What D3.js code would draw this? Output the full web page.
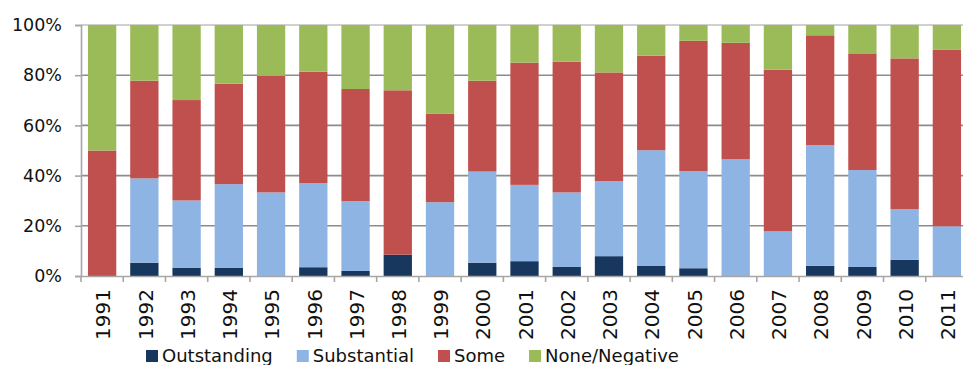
<!DOCTYPE html>
<html>
<head>
<meta charset="utf-8">
<script src="https://cdn.jsdelivr.net/npm/d3@7"></script>
<style>
  body { margin: 0; background: #fff; }
  svg { display: block; font-family: "DejaVu Sans", sans-serif; }
</style>
</head>
<body>
<svg width="963" height="365"></svg>
<script>
var years = ["1991","1992","1993","1994","1995","1996","1997","1998","1999","2000",
             "2001","2002","2003","2004","2005","2006","2007","2008","2009","2010","2011"];
var outstanding = [0, 5.3, 3.2, 3.2, 0, 3.5, 2.0, 8.5, 0, 5.3, 5.9, 3.6, 7.9, 4.0, 3.1, 0, 0, 4.1, 3.6, 6.4, 0];
var substantial = [0, 33.6, 26.9, 33.4, 33.3, 33.5, 27.8, 0, 29.4, 36.3, 30.4, 29.7, 29.9, 46.1, 38.7, 46.5, 17.8, 48.0, 38.6, 20.2, 19.8];
var some        = [50, 38.9, 40.0, 40.0, 46.4, 44.4, 44.7, 65.5, 35.2, 36.2, 48.7, 52.1, 43.3, 37.7, 51.9, 46.4, 64.4, 43.8, 46.5, 60.1, 70.3];
var noneNeg     = [50, 22.2, 29.9, 23.4, 20.3, 18.6, 25.5, 26.0, 35.4, 22.2, 15.0, 14.6, 18.9, 12.2, 6.3, 7.1, 17.8, 4.1, 11.3, 13.3, 9.9];
var seriesNames = ["Outstanding", "Substantial", "Some", "None/Negative"];
var yTicks = [0, 20, 40, 60, 80, 100];

var colors = ["#17375e", "#8eb4e3", "#c0504d", "#9bbb59"];

var svg = d3.select("svg"),
    plotLeft = 81, plotRight = 968, plotTop = 25, plotBottom = 276;

var rows = years.map(function(y, i) {
  return {year: y, Outstanding: outstanding[i], Substantial: substantial[i],
          Some: some[i], "None/Negative": noneNeg[i]};
});

var xScale = d3.scaleBand().domain(years).range([plotLeft, plotRight])
    .paddingInner(0.33).paddingOuter(0.165);
var yScale = d3.scaleLinear().domain([0, 100]).range([plotBottom, plotTop]);
var step = xScale.step();

// gridlines
svg.append("g").selectAll("line")
  .data(yTicks.filter(function(d) { return d > 0; }))
  .enter().append("line")
  .attr("x1", plotLeft).attr("x2", plotRight)
  .attr("y1", function(d) { return yScale(d); })
  .attr("y2", function(d) { return yScale(d); })
  .attr("stroke", function(d) { return d == 100 ? "#c0c0c0" : "#8c8c8c"; })
  .attr("stroke-width", 1.6);

// stacked bars
var stack = d3.stack().keys(seriesNames)(rows);
svg.append("g").selectAll("g")
  .data(stack)
  .enter().append("g")
  .attr("fill", function(d, i) { return colors[i]; })
  .selectAll("rect")
  .data(function(d) { return d; })
  .enter().append("rect")
  .attr("x", function(d) { return xScale(d.data.year); })
  .attr("width", xScale.bandwidth())
  .attr("y", function(d) { return yScale(d[1]); })
  .attr("height", function(d) { return yScale(d[0]) - yScale(d[1]); });

// y axis
var yAxis = svg.append("g")
  .attr("transform", "translate(" + plotLeft + ",0)")
  .call(d3.axisLeft(yScale).tickValues(yTicks).tickSize(6).tickPadding(13)
        .tickFormat(function(d) { return d + "%"; }));
yAxis.select(".domain").attr("stroke", "#a6a6a6").attr("stroke-width", 1.6);
yAxis.selectAll(".tick line").attr("stroke", "#a6a6a6").attr("stroke-width", 1.6);
yAxis.selectAll("text").attr("font-size", 17.5).attr("fill", "#111")
  .attr("font-family", "DejaVu Sans");

// x axis
var xAxis = svg.append("g")
  .attr("transform", "translate(0," + plotBottom + ")")
  .call(d3.axisBottom(xScale).tickSize(0).tickSizeOuter(0));
xAxis.select(".domain").attr("stroke", "#a6a6a6").attr("stroke-width", 1.6);
xAxis.selectAll("text")
  .attr("font-size", 20).attr("fill", "#111").attr("font-family", "DejaVu Sans")
  .attr("transform", "rotate(-90)")
  .attr("text-anchor", "end")
  .attr("x", -13).attr("y", 1).attr("dy", "0.36em");

xAxis.selectAll(".bound")
  .data(d3.range(years.length + 1))
  .enter().append("line")
  .attr("x1", function(i) { return plotLeft + i * step; })
  .attr("x2", function(i) { return plotLeft + i * step; })
  .attr("y1", 0).attr("y2", 6)
  .attr("stroke", "#a6a6a6").attr("stroke-width", 1.6);

// legend
var legend = svg.append("g").attr("transform", "translate(146,0)");
var lx = 0;
seriesNames.forEach(function(name, i) {
  var item = legend.append("g").attr("transform", "translate(" + lx + ",0)");
  item.append("rect").attr("x", 0).attr("y", 350).attr("width", 12).attr("height", 12)
    .attr("fill", colors[i]);
  var t = item.append("text").attr("x", 16).attr("y", 362)
    .attr("font-size", 18).attr("fill", "#111").text(name);
  lx += 16 + t.node().getComputedTextLength() + 24;
});
</script>
</body>
</html>
